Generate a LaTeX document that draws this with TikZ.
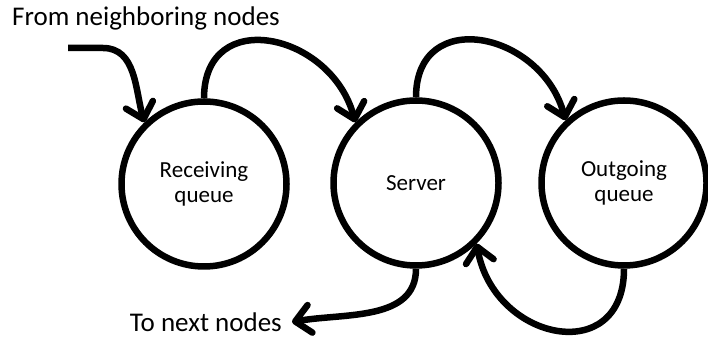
\documentclass[tikz,border=0pt]{standalone}
\usepackage{fontspec}
\setmainfont{Carlito}
\usetikzlibrary{arrows.meta, positioning}

\begin{document}
\begin{tikzpicture}[x=1pt, y=1pt,
    queue/.style={circle, draw, line width=6.5pt, minimum size=165pt, inner sep=0pt,
        font=\fontsize{23}{25}\selectfont, align=center},
    flow/.style={line width=6.5pt, -{Straight Barb[length=15pt, width=28pt, line width=6.5pt, round]}},
    lbl/.style={font=\fontsize{27}{32}\selectfont, inner sep=2pt}]

    \useasboundingbox (0,0) rectangle (708,339);

    % 1. Các vòng tròn (hàng đợi và server)
    \node[queue] (recv) at (204,155) {Receiving\\queue};
    \node[queue] (server) at (416,156) {Server};
    \node[queue] (outq) at (624,156) {Outgoing\\queue};

    % 2. Nhãn vào / ra
    \node[lbl, anchor=west] (from) at (10,321) {From neighboring nodes};
    \node[lbl, anchor=east, inner xsep=10pt] (tonext) at (292,17) {To next nodes};

    % 3. Các mũi tên
    \coordinate (start) at (68,291);
    \draw[flow] (start) -- ++(35,0) to[out=0, in=106] (recv.134);
    \draw[flow] (recv.north) to[out=90, in=105, looseness=1.55] (server.135);
    \draw[flow] (server.north) to[out=90, in=105, looseness=1.55] (outq.133);
    \draw[flow] (outq.south) to[out=-90, in=-80, looseness=1.7] (server.-45);
    \draw[flow] (server.south) to[out=-90, in=10] (tonext.east);

\end{tikzpicture}
\end{document}
